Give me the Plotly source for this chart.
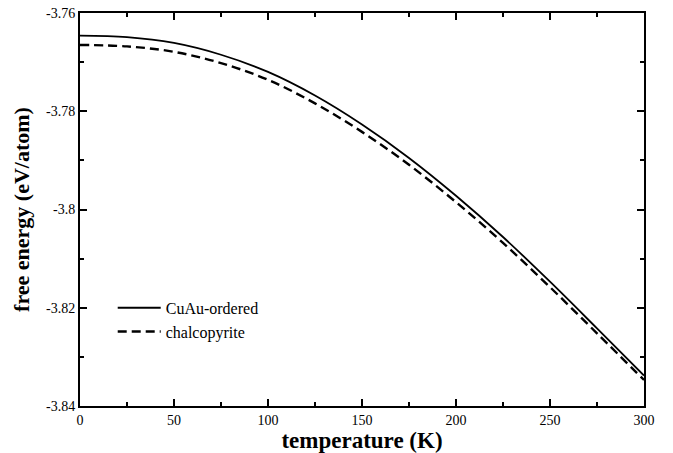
import plotly.graph_objects as go

temperature = [0, 25, 50, 75, 100, 125, 150, 175, 200, 225, 250, 275, 300]
cuau_ordered = [-3.7646, -3.7649, -3.7661, -3.7685, -3.7720, -3.7768, -3.7827,
                -3.7895, -3.7972, -3.8056, -3.8147, -3.8242, -3.8338]
chalcopyrite = [-3.7665, -3.7668, -3.7679, -3.7702, -3.7736, -3.7784, -3.7842,
                -3.7909, -3.7985, -3.8068, -3.8158, -3.8252, -3.8347]

x_tickvals = [0, 50, 100, 150, 200, 250, 300]
x_ticktext = ["0", "50", "100", "150", "200", "250", "300"]
x_minorvals = [25, 75, 125, 175, 225, 275]
y_tickvals = [-3.84, -3.82, -3.80, -3.78, -3.76]
y_ticktext = ["-3.84", "-3.82", "-3.8", "-3.78", "-3.76"]
y_minorvals = [-3.83, -3.81, -3.79, -3.77]

FONT = "Liberation Serif"
X_RANGE = [0, 300]
Y_RANGE = [-3.84, -3.76]

fig = go.Figure()
fig.add_trace(go.Scatter(x=temperature, y=cuau_ordered, mode="lines", name="CuAu-ordered",
                         line=dict(color="black", width=1.8, shape="spline")))
fig.add_trace(go.Scatter(x=temperature, y=chalcopyrite, mode="lines", name="chalcopyrite",
                         line=dict(color="black", width=2.4, dash="9px,5px", shape="spline")))

tick_common = dict(showgrid=False, zeroline=False, ticks="inside", tickwidth=2,
                   tickcolor="black", automargin=False)

fig.update_layout(
    xaxis=dict(range=X_RANGE, tickmode="array", tickvals=x_tickvals, ticktext=x_ticktext,
               showline=True, linecolor="black", linewidth=2, mirror="ticks", ticklen=7,
               tickfont=dict(family=FONT, size=14, color="black"),
               title=dict(text="<b>temperature (K)</b>",
                          font=dict(family=FONT, size=23, color="black"), standoff=4),
               **tick_common),
    yaxis=dict(range=Y_RANGE, tickmode="array", tickvals=y_tickvals, ticktext=y_ticktext,
               showline=True, linecolor="black", linewidth=2, mirror="ticks", ticklen=7,
               tickfont=dict(family=FONT, size=14, color="black"),
               title=dict(text="<b>free energy (eV/atom)</b>",
                          font=dict(family=FONT, size=22, color="black"), standoff=10),
               **tick_common),
    # overlay axes carrying the minor ticks
    xaxis2=dict(range=X_RANGE, overlaying="x", tickmode="array", tickvals=x_minorvals,
                showticklabels=False, showline=False, mirror="ticks", ticklen=4, **tick_common),
    yaxis2=dict(range=Y_RANGE, overlaying="y", tickmode="array", tickvals=y_minorvals,
                showticklabels=False, showline=False, mirror="ticks", ticklen=4, **tick_common),
    width=673, height=453,
    margin=dict(l=80, r=29, t=13, b=47),
    paper_bgcolor="white", plot_bgcolor="white",
    font=dict(family=FONT, color="black"),
    legend=dict(x=0.058, y=0.293, xanchor="left", yanchor="top", bgcolor="rgba(0,0,0,0)",
                font=dict(family=FONT, size=16, color="black"), itemwidth=43,
                tracegroupgap=0),
)
# invisible trace so the overlay axes are drawn
fig.add_trace(go.Scatter(x=[X_RANGE[0]], y=[Y_RANGE[0]], xaxis="x2", yaxis="y2", mode="markers",
                         marker=dict(opacity=0), showlegend=False, hoverinfo="skip"))

fig.write_html("out.html")
